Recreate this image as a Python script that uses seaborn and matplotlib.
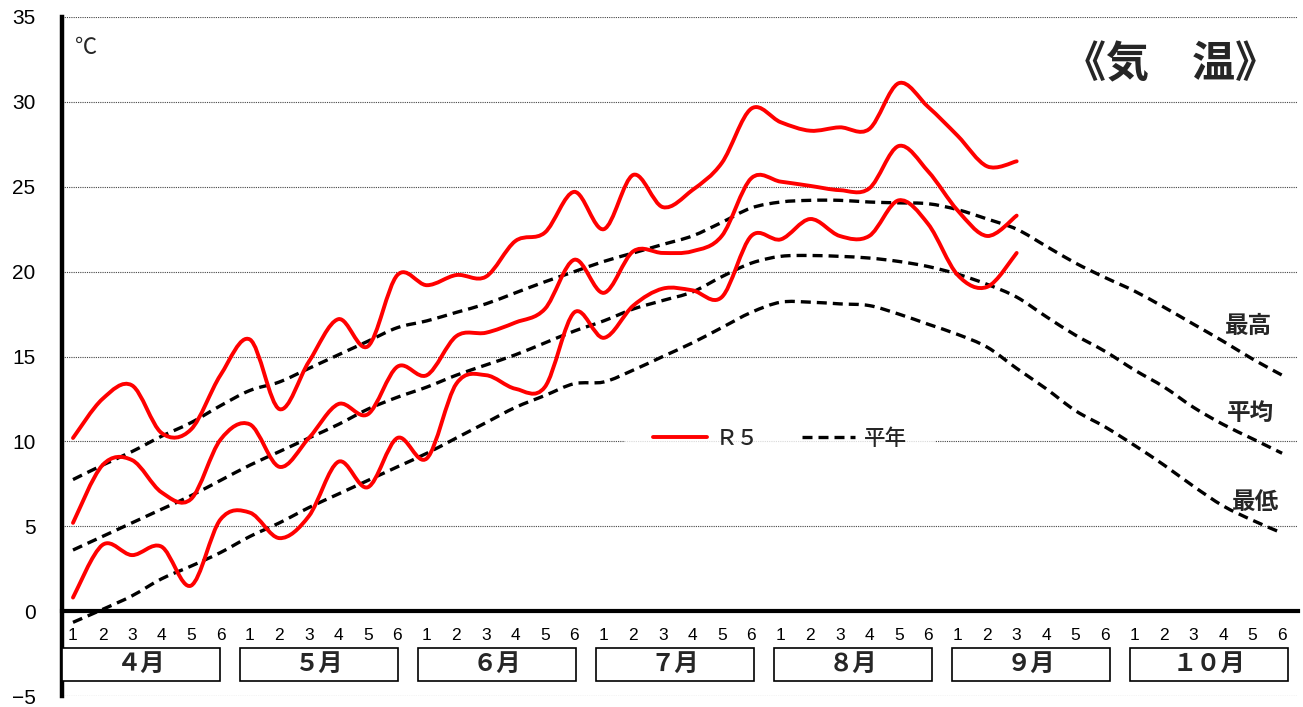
import numpy as np
import pandas as pd
import matplotlib
matplotlib.use("Agg")
import matplotlib.pyplot as plt
import seaborn as sns
from matplotlib.path import Path
from matplotlib.patches import PathPatch, Rectangle
from matplotlib.lines import Line2D

# half-decade (半旬) labels and months
HALF_LABELS = ['1', '2', '3', '4', '5', '6']
MONTHS = ['４月', '５月', '６月', '７月', '８月', '９月', '１０月']

# R5 observed values (4/1 .. 9/3)
R5_MAX = [10.2, 12.5, 13.3, 10.5, 10.7, 13.9,
          16.0, 11.9, 14.7, 17.2, 15.6, 19.8,
          19.2, 19.8, 19.7, 21.8, 22.3, 24.7,
          22.5, 25.7, 23.8, 24.8, 26.4, 29.6,
          28.8, 28.3, 28.5, 28.4, 31.1, 29.7,
          28.0, 26.2, 26.5]
R5_MEAN = [5.2, 8.6, 8.9, 7.0, 6.6, 10.1,
           11.0, 8.5, 10.2, 12.2, 11.6, 14.4,
           13.9, 16.2, 16.4, 17.0, 17.8, 20.7,
           18.75, 21.2, 21.1, 21.2, 22.1, 25.5,
           25.3, 25.05, 24.8, 24.9, 27.4, 25.9,
           23.6, 22.1, 23.3]
R5_MIN = [0.8, 3.9, 3.3, 3.8, 1.5, 5.4,
          5.8, 4.3, 5.6, 8.8, 7.3, 10.2,
          9.0, 13.4, 13.9, 13.1, 13.2, 17.6,
          16.1, 18.0, 19.0, 18.9, 18.5, 22.1,
          21.9, 23.1, 22.1, 22.1, 24.2, 22.8,
          19.8, 19.1, 21.1]

# normal values (4/1 .. 10/6)
NORMAL_MAX = [7.75, 8.6, 9.4, 10.3, 11.1, 12.1,
              13.0, 13.5, 14.3, 15.1, 15.9, 16.7,
              17.1, 17.6, 18.1, 18.75, 19.4, 20.0,
              20.6, 21.1, 21.6, 22.1, 22.9, 23.75,
              24.1, 24.2, 24.2, 24.1, 24.05, 24.0,
              23.65, 23.1, 22.5, 21.5, 20.5, 19.65,
              18.85, 17.9, 16.9, 15.9, 14.85, 13.9]
NORMAL_MEAN = [3.6, 4.4, 5.2, 6.0, 6.8, 7.7,
               8.6, 9.4, 10.2, 11.0, 11.9, 12.6,
               13.2, 13.9, 14.5, 15.1, 15.8, 16.5,
               17.1, 17.8, 18.3, 18.8, 19.7, 20.5,
               20.9, 20.95, 20.9, 20.8, 20.6, 20.3,
               19.85, 19.25, 18.5, 17.35, 16.25, 15.3,
               14.2, 13.2, 12.0, 11.0, 10.15, 9.3]
NORMAL_MIN = [-0.66, 0.1, 0.9, 1.9, 2.65, 3.45,
              4.4, 5.2, 6.1, 6.9, 7.7, 8.5,
              9.3, 10.2, 11.1, 12.0, 12.7, 13.4,
              13.5, 14.2, 15.0, 15.8, 16.7, 17.6,
              18.2, 18.2, 18.1, 18.0, 17.5, 16.9,
              16.3, 15.55, 14.3, 13.1, 11.8, 10.85,
              9.76, 8.6, 7.35, 6.2, 5.35, 4.6]


def smooth_path(values):
    # excel-like smoothed line: catmull-rom segments as cubic beziers
    pts = np.column_stack([np.arange(len(values), dtype=float), np.asarray(values, dtype=float)])
    padded = np.vstack([pts[:1], pts, pts[-1:]])
    verts, codes = [pts[0]], [Path.MOVETO]
    for k in range(len(pts) - 1):
        p0, p1, p2, p3 = padded[k], padded[k + 1], padded[k + 2], padded[k + 3]
        verts += [p1 + (p2 - p0) / 6, p2 - (p3 - p1) / 6, p2]
        codes += [Path.CURVE4] * 3
    return Path(verts, codes)


sns.set_theme(style="white")
plt.rcParams['font.family'] = ['Noto Sans CJK JP', 'DejaVu Sans']
NUM_FONT = ['Liberation Sans', 'DejaVu Sans']

observed = pd.DataFrame({'max': R5_MAX, 'mean': R5_MEAN, 'min': R5_MIN})
normal = pd.DataFrame({'max': NORMAL_MAX, 'mean': NORMAL_MEAN, 'min': NORMAL_MIN})

fig = plt.figure(figsize=(13.03, 7.07), dpi=100)
ax = fig.add_axes([62 / 1303, 11 / 707, 1236 / 1303, 679 / 707])

n = len(normal)
ax.set_xlim(-0.373, n - 0.46)
ax.set_ylim(-5, 35)

# normal (dashed) and R5 (red) lines
for col in normal.columns:
    ax.add_patch(PathPatch(smooth_path(normal[col]), fill=False, edgecolor='black',
                           linewidth=2.4, linestyle=(0, (3.0, 1.8)), capstyle='butt', zorder=3))
for col in observed.columns:
    ax.add_patch(PathPatch(smooth_path(observed[col]), fill=False, edgecolor='#ff0000',
                           linewidth=2.8, joinstyle='round', capstyle='round', zorder=4))

# y axis
ax.set_yticks(range(-5, 36, 5))
ax.yaxis.grid(True, linestyle=(0, (1, 1)), linewidth=0.8, color='#444444')
ax.set_axisbelow(True)
ax.tick_params(axis='y', direction='in', length=4, width=2, color='black',
               labelsize=15, pad=19, labelcolor='black')
for lab in ax.get_yticklabels():
    lab.set_family(NUM_FONT)

# x axis on the zero line
sns.despine(ax=ax)
ax.spines['left'].set_linewidth(3.2)
ax.spines['left'].set_color('black')
ax.spines['bottom'].set_position(('data', 0))
ax.spines['bottom'].set_linewidth(3)
ax.spines['bottom'].set_color('black')
ax.set_xticks(np.arange(n))
ax.set_xticklabels([HALF_LABELS[i % 6] for i in range(n)], family=NUM_FONT)
ax.set_xticks(np.arange(0.5, n, 1.0), minor=True)
ax.tick_params(axis='x', which='major', length=0, labelsize=12.5, pad=12, labelcolor='black')
ax.tick_params(axis='x', which='minor', direction='in', length=4, width=2, color='black')
ax.xaxis.grid(False)

# month boxes
for m, name in enumerate(MONTHS):
    cx = 6 * m + 2.3 + 0.035 * m
    ax.add_patch(Rectangle((cx - 2.68, -4.12), 5.36, 1.95, facecolor='white',
                           edgecolor='black', linewidth=1.2, zorder=3))
    ax.text(cx, -3.12, name, ha='center', va='center', fontsize=17.5,
            fontweight='bold', zorder=4)

# labels
ax.text(0.44, 33.2, '℃', ha='center', va='center', fontsize=16)
ax.text(37.2, 32.2, '《気　温》', ha='center', va='center', fontsize=31, fontweight='bold')
ax.text(39.87, 16.8, '最高', ha='center', va='center', fontsize=17, fontweight='bold')
ax.text(39.94, 11.65, '平均', ha='center', va='center', fontsize=17, fontweight='bold')
ax.text(40.1, 6.4, '最低', ha='center', va='center', fontsize=17, fontweight='bold')

handles = [Line2D([], [], color='#ff0000', linewidth=2.8),
           Line2D([], [], color='black', linewidth=2.4, linestyle=(0, (3.0, 1.8)))]
leg = ax.legend(handles, ['Ｒ５', '平年'], loc='center', bbox_to_anchor=(0.581, 0.3785),
                ncol=2, fontsize=15.5, frameon=True, handlelength=2.5, handletextpad=0.4,
                columnspacing=2.0, borderpad=1.3, borderaxespad=0)
leg.get_frame().set_facecolor('white')
leg.get_frame().set_linewidth(0)
leg.get_frame().set_boxstyle('square', pad=0)
leg.set_zorder(1)
for t in leg.get_texts():
    t.set_fontweight('medium')

fig.savefig('out.png', dpi=100)
